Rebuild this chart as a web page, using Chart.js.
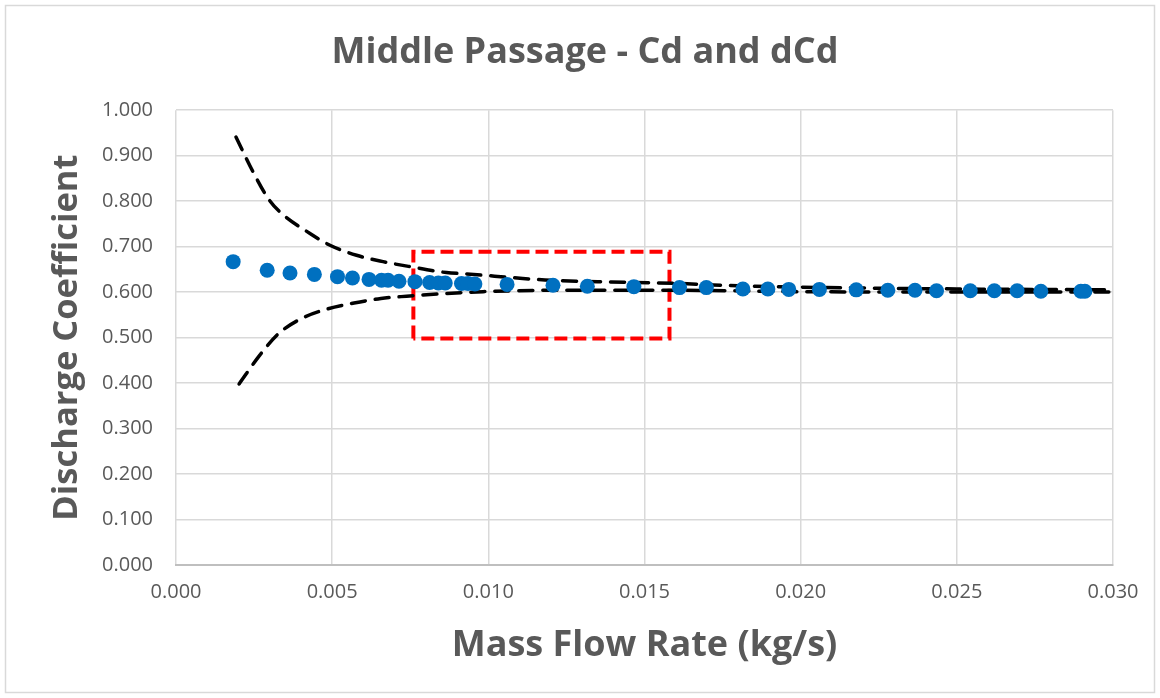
<!DOCTYPE html>
<html>
<head>
<meta charset="utf-8">
<script src="https://cdn.jsdelivr.net/npm/chart.js@4.4.1/dist/chart.umd.min.js"></script>
<style>
  html, body { margin: 0; padding: 0; background: #fff; }
  #wrap { width: 1160px; height: 698px; }
</style>
</head>
<body>
<div id="wrap"><canvas id="cd"></canvas></div>
<script>
// measured discharge coefficient vs mass flow rate
var massFlow = [0.00183, 0.00292, 0.00365, 0.00443, 0.00517, 0.00565, 0.00618, 0.00658,
    0.00679, 0.00714, 0.00765, 0.00812, 0.00840, 0.00862, 0.00914, 0.00935, 0.00957,
    0.0106, 0.01207, 0.01317, 0.01466, 0.01612, 0.01698, 0.01815, 0.01895, 0.01962,
    0.0206, 0.02178, 0.02279, 0.02366, 0.02435, 0.02543, 0.0262, 0.02693, 0.02769,
    0.02897, 0.0291];
var cd = [0.667, 0.648, 0.642, 0.639, 0.634, 0.631, 0.628, 0.626,
    0.626, 0.624, 0.623, 0.621, 0.620, 0.620, 0.619, 0.619, 0.618,
    0.617, 0.615, 0.613, 0.612, 0.610, 0.610, 0.607, 0.607, 0.606,
    0.606, 0.605, 0.604, 0.604, 0.603, 0.603, 0.603, 0.603, 0.602,
    0.602, 0.602];

// uncertainty band (Cd + dCd / Cd - dCd)
var upperX = [0.00192, 0.0025, 0.00295, 0.00333, 0.00429, 0.00493, 0.00578, 0.00663,
    0.00749, 0.00866, 0.0093, 0.0104, 0.0111, 0.0120, 0.0135, 0.0161, 0.0175,
    0.0200, 0.0250, 0.0300];
var upperCd = [0.941, 0.860, 0.806, 0.776, 0.729, 0.703, 0.681, 0.667,
    0.656, 0.643, 0.640, 0.634, 0.630, 0.626, 0.623, 0.619, 0.615,
    0.611, 0.607, 0.605];
var lowerX = [0.00202, 0.00269, 0.00327, 0.00402, 0.00485, 0.00570, 0.00656, 0.00738,
    0.00866, 0.00983, 0.0120, 0.0160, 0.0200, 0.0250, 0.0300];
var lowerCd = [0.398, 0.462, 0.508, 0.542, 0.563, 0.576, 0.586, 0.591,
    0.597, 0.601, 0.604, 0.604, 0.601, 0.600, 0.600];

// highlighted region
var boxX = [0.0076, 0.0158];
var boxY = [0.498, 0.689];

var xTicks = [0, 0.005, 0.010, 0.015, 0.020, 0.025, 0.030];
var yTicks = [0, 0.1, 0.2, 0.3, 0.4, 0.5, 0.6, 0.7, 0.8, 0.9, 1.0];

function pairs(xs, ys) {
    return xs.map(function (x, i) { return { x: x, y: ys[i] }; });
}

var textColor = '#595959';
var gridColor = '#d9d9d9';

var frame = {
    id: 'frame',
    beforeDraw: function (chart) {
        var c = chart.ctx;
        c.save();
        c.fillStyle = '#fff';
        c.fillRect(0, 0, chart.width, chart.height);
        c.strokeStyle = '#d9d9d9';
        c.lineWidth = 1.5;
        c.strokeRect(5.5, 5.5, chart.width - 11, chart.height - 11);
        c.restore();
    }
};

var ctx = document.getElementById('cd').getContext('2d');
new Chart(ctx, {
    type: 'scatter',
    data: {
        datasets: [
            {
                label: 'Cd',
                data: pairs(massFlow, cd),
                backgroundColor: '#0070c0',
                borderColor: '#0070c0',
                pointRadius: 7.5,
                pointBorderWidth: 0
            },
            {
                label: 'Cd + dCd',
                data: pairs(upperX, upperCd),
                showLine: true,
                borderColor: '#000',
                borderWidth: 3.5,
                borderDash: [14, 10],
                borderCapStyle: 'round',
                cubicInterpolationMode: 'monotone',
                pointRadius: 0
            },
            {
                label: 'Cd - dCd',
                data: pairs(lowerX, lowerCd),
                showLine: true,
                borderColor: '#000',
                borderWidth: 3.5,
                borderDash: [14, 10],
                borderCapStyle: 'round',
                cubicInterpolationMode: 'monotone',
                pointRadius: 0
            },
            {
                label: 'region',
                data: [
                    { x: boxX[0], y: boxY[0] }, { x: boxX[0], y: boxY[1] },
                    { x: boxX[1], y: boxY[1] }, { x: boxX[1], y: boxY[0] },
                    { x: boxX[0], y: boxY[0] }
                ],
                showLine: true,
                borderColor: '#ff0000',
                borderWidth: 4,
                borderDash: [13, 6],
                tension: 0,
                pointRadius: 0
            }
        ]
    },
    options: {
        responsive: true,
        maintainAspectRatio: false,
        animation: false,
        layout: { padding: { left: 10, right: 0, top: 0, bottom: 0 } },
        plugins: {
            legend: { display: false },
            tooltip: { enabled: false },
            title: {
                display: true,
                text: 'Middle Passage - Cd and dCd',
                color: textColor,
                font: { family: 'Open Sans', size: 36, weight: 'bold' },
                padding: { top: 31, bottom: 36 }
            }
        },
        scales: {
            x: {
                type: 'linear',
                min: 0,
                max: 0.03,
                afterFit: function (s) { s.height = 133; },
                afterBuildTicks: function (s) {
                    s.ticks = xTicks.map(function (v) { return { value: v }; });
                },
                ticks: {
                    color: textColor,
                    font: { family: 'Open Sans', size: 20 },
                    padding: 15,
                    maxRotation: 0,
                    callback: function (v) { return Number(v).toFixed(3); }
                },
                grid: { color: gridColor, lineWidth: 1.5, drawTicks: false },
                border: { color: '#bfbfbf', width: 2 },
                title: {
                    display: true,
                    text: 'Mass Flow Rate (kg/s)',
                    color: textColor,
                    font: { family: 'Open Sans', size: 36, weight: 'bold' },
                    padding: { top: 0, bottom: 31 }
                }
            },
            y: {
                type: 'linear',
                min: 0,
                max: 1,
                afterFit: function (s) { s.width = 166; },
                afterBuildTicks: function (s) {
                    s.ticks = yTicks.map(function (v) { return { value: v }; });
                },
                ticks: {
                    color: textColor,
                    font: { family: 'Open Sans', size: 20 },
                    padding: 23,
                    callback: function (v) { return Number(v).toFixed(3); }
                },
                grid: { color: gridColor, lineWidth: 1.5, drawTicks: false },
                border: { display: false },
                title: {
                    display: true,
                    text: 'Discharge Coefficient',
                    color: textColor,
                    font: { family: 'Open Sans', size: 34.5, weight: 'bold' },
                    padding: { top: 36, bottom: 0 }
                }
            },
            // empty right-hand margin so the plot ends at 0.030 like the frame
            margin: {
                type: 'linear',
                position: 'right',
                afterFit: function (s) { s.width = 47; },
                ticks: { display: false },
                grid: { display: false, drawTicks: false },
                border: { display: false }
            }
        }
    },
    plugins: [frame]
});
</script>
</body>
</html>
